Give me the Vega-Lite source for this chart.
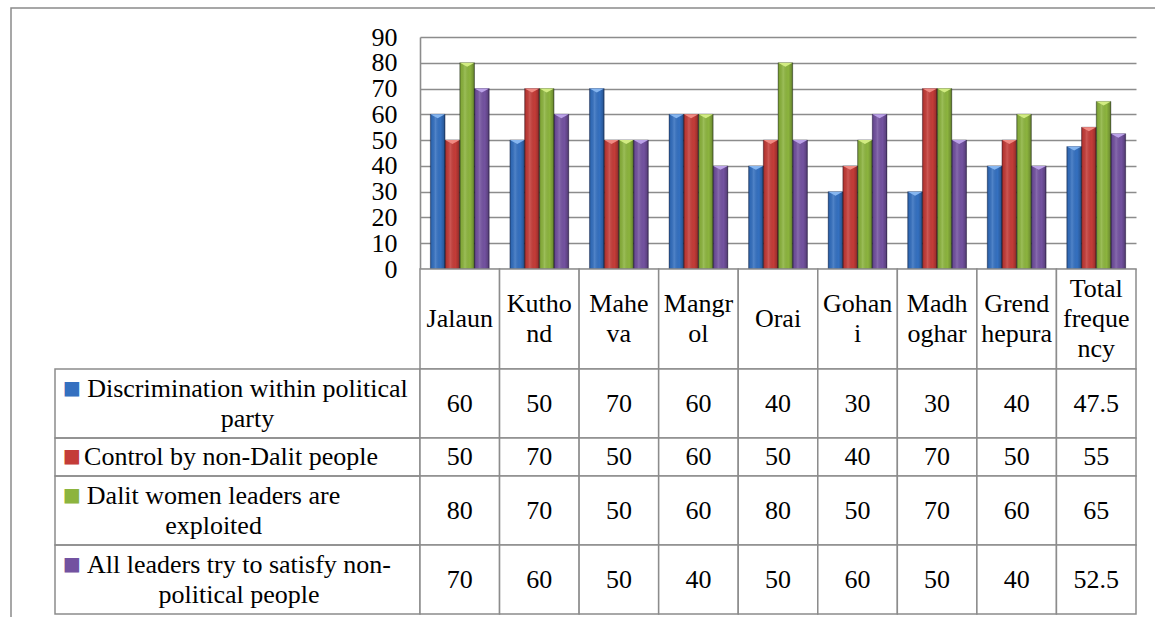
{
  "$schema": "https://vega.github.io/schema/vega-lite/v6.json",
  "background": "white",
  "padding": {"left": 10, "top": 7, "right": 0, "bottom": 0},
  "datasets": {
    "scores": [
      {"place": "Jalaun", "series": "Discrimination within political party", "value": 60},
      {"place": "Kuthond", "series": "Discrimination within political party", "value": 50},
      {"place": "Maheva", "series": "Discrimination within political party", "value": 70},
      {"place": "Mangrol", "series": "Discrimination within political party", "value": 60},
      {"place": "Orai", "series": "Discrimination within political party", "value": 40},
      {"place": "Gohani", "series": "Discrimination within political party", "value": 30},
      {"place": "Madhoghar", "series": "Discrimination within political party", "value": 30},
      {"place": "Grendhepura", "series": "Discrimination within political party", "value": 40},
      {"place": "Total frequency", "series": "Discrimination within political party", "value": 47.5},
      {"place": "Jalaun", "series": "Control by non-Dalit people", "value": 50},
      {"place": "Kuthond", "series": "Control by non-Dalit people", "value": 70},
      {"place": "Maheva", "series": "Control by non-Dalit people", "value": 50},
      {"place": "Mangrol", "series": "Control by non-Dalit people", "value": 60},
      {"place": "Orai", "series": "Control by non-Dalit people", "value": 50},
      {"place": "Gohani", "series": "Control by non-Dalit people", "value": 40},
      {"place": "Madhoghar", "series": "Control by non-Dalit people", "value": 70},
      {"place": "Grendhepura", "series": "Control by non-Dalit people", "value": 50},
      {"place": "Total frequency", "series": "Control by non-Dalit people", "value": 55},
      {"place": "Jalaun", "series": "Dalit women leaders are exploited", "value": 80},
      {"place": "Kuthond", "series": "Dalit women leaders are exploited", "value": 70},
      {"place": "Maheva", "series": "Dalit women leaders are exploited", "value": 50},
      {"place": "Mangrol", "series": "Dalit women leaders are exploited", "value": 60},
      {"place": "Orai", "series": "Dalit women leaders are exploited", "value": 80},
      {"place": "Gohani", "series": "Dalit women leaders are exploited", "value": 50},
      {"place": "Madhoghar", "series": "Dalit women leaders are exploited", "value": 70},
      {"place": "Grendhepura", "series": "Dalit women leaders are exploited", "value": 60},
      {"place": "Total frequency", "series": "Dalit women leaders are exploited", "value": 65},
      {"place": "Jalaun", "series": "All leaders try to satisfy non-political people", "value": 70},
      {"place": "Kuthond", "series": "All leaders try to satisfy non-political people", "value": 60},
      {"place": "Maheva", "series": "All leaders try to satisfy non-political people", "value": 50},
      {"place": "Mangrol", "series": "All leaders try to satisfy non-political people", "value": 40},
      {"place": "Orai", "series": "All leaders try to satisfy non-political people", "value": 50},
      {"place": "Gohani", "series": "All leaders try to satisfy non-political people", "value": 60},
      {"place": "Madhoghar", "series": "All leaders try to satisfy non-political people", "value": 50},
      {"place": "Grendhepura", "series": "All leaders try to satisfy non-political people", "value": 40},
      {"place": "Total frequency", "series": "All leaders try to satisfy non-political people", "value": 52.5}
    ],
    "places": [
      {"place": "Jalaun", "heading": "Jalaun"},
      {"place": "Kuthond", "heading": "Kutho\nnd"},
      {"place": "Maheva", "heading": "Mahe\nva"},
      {"place": "Mangrol", "heading": "Mangr\nol"},
      {"place": "Orai", "heading": "Orai"},
      {"place": "Gohani", "heading": "Gohan\ni"},
      {"place": "Madhoghar", "heading": "Madh\noghar"},
      {"place": "Grendhepura", "heading": "Grend\nhepura"},
      {"place": "Total frequency", "heading": "Total\nfreque\nncy"}
    ],
    "series": [
      {"series": "Discrimination within political party", "label": "Discrimination within political\nparty"},
      {"series": "Control by non-Dalit people", "label": "Control by non-Dalit people"},
      {"series": "Dalit women leaders are exploited", "label": "Dalit women leaders are\nexploited"},
      {"series": "All leaders try to satisfy non-political people", "label": "All leaders try to satisfy non-\npolitical people"}
    ]
  },
  "config": {
    "view": {"stroke": null},
    "font": "Liberation Serif, Tinos, Times New Roman, DejaVu Serif, serif",
    "text": {"font": "Liberation Serif, Tinos, Times New Roman, DejaVu Serif, serif", "fontSize": 26, "color": "black", "align": "center", "baseline": "middle"}
  },
  "columns": 3,
  "spacing": 0,
  "bounds": "flush",
  "align": "each",
  "resolve": {"scale": {"x": "independent", "y": "independent", "color": "independent", "fill": "independent", "xOffset": "independent"}},
  "concat": [
    {"width": 44, "height": 29, "data": {"values": [{"k": 1}]}, "mark": {"type": "text", "text": ""},
     "view": {"stroke": "#8a8a8a", "strokeWidth": 1.5, "strokeDash": [44, 73, 29]}},
    {"width": 365, "height": 29, "data": {"values": [{"k": 1}]}, "mark": {"type": "text", "text": ""},
     "view": {"stroke": "#8a8a8a", "strokeWidth": 1.5, "strokeDash": [365, 423]}},
    {"width": 735, "height": 29, "data": {"values": [{"k": 1}]}, "mark": {"type": "text", "text": ""},
     "view": {"stroke": "#8a8a8a", "strokeWidth": 1.5, "strokeDash": [735, 793]}},

    {"width": 44, "height": 232, "data": {"values": [{"k": 1}]}, "mark": {"type": "text", "text": ""},
     "view": {"stroke": "#8a8a8a", "strokeWidth": 1.5, "strokeDash": [0, 320, 232]}},
    {"width": 365, "height": 232, "data": {"values": [{"k": 1}]}, "mark": {"type": "text", "text": ""}},
    {
      "width": 716,
      "height": 232,
      "data": {"name": "scores"},
      "encoding": {
        "x": {"field": "place", "type": "nominal", "sort": null, "axis": null,
              "scale": {"paddingInner": 0.26, "paddingOuter": 0.13}},
        "xOffset": {"field": "series", "type": "nominal", "sort": null,
                    "scale": {"paddingInner": 0, "paddingOuter": 0}},
        "y": {"field": "value", "type": "quantitative", "stack": null,
              "scale": {"domain": [0, 90], "nice": false},
              "axis": {"values": [0, 10, 20, 30, 40, 50, 60, 70, 80, 90], "title": null,
                       "grid": true, "gridColor": "#8c8c8c", "gridWidth": 1.6,
                       "domain": true, "domainColor": "#8c8c8c", "domainWidth": 1.6,
                       "ticks": false, "labelPadding": 23,
                       "labelFont": "Liberation Serif, Tinos, Times New Roman, DejaVu Serif, serif",
                       "labelFontSize": 26, "labelColor": "black", "labelOverlap": false,
                       "labelFlush": false}}
      },
      "layer": [
        {"mark": {"type": "bar"},
         "encoding": {"color": {"field": "series", "type": "nominal", "sort": null, "legend": null,
           "scale": {"domain": ["Discrimination within political party", "Control by non-Dalit people", "Dalit women leaders are exploited", "All leaders try to satisfy non-political people"],
                     "range": ["#3470c0", "#c43c38", "#8cb43e", "#7352a0"]}}}},
        {"mark": {"type": "bar", "stroke": "#10102a", "strokeOpacity": 0.45, "strokeWidth": 0.7,
          "fill": {"gradient": "linear", "x1": 0, "y1": 0, "x2": 1, "y2": 0,
            "stops": [
              {"offset": 0, "color": "rgba(0,0,0,0.30)"},
              {"offset": 0.12, "color": "rgba(0,0,0,0.05)"},
              {"offset": 0.35, "color": "rgba(255,255,255,0.14)"},
              {"offset": 0.7, "color": "rgba(0,0,0,0)"},
              {"offset": 0.9, "color": "rgba(0,0,0,0.18)"},
              {"offset": 1, "color": "rgba(0,0,0,0.45)"}
            ]}}},
        {"mark": {"type": "point", "shape": "M-1,0L1,0L0,0.55Z", "filled": true, "size": 210, "opacity": 1, "strokeWidth": 0},
         "encoding": {"fill": {"field": "series", "type": "nominal", "sort": null, "legend": null,
           "scale": {"domain": ["Discrimination within political party", "Control by non-Dalit people", "Dalit women leaders are exploited", "All leaders try to satisfy non-political people"],
                     "range": ["#86b6f0", "#f08a82", "#d2ec82", "#bba2e8"]}}}}
      ]
    },

    {"width": 44, "height": 100, "data": {"values": [{"k": 1}]}, "mark": {"type": "text", "text": ""},
     "view": {"stroke": "#8a8a8a", "strokeWidth": 1.5, "strokeDash": [0, 188, 100]}},
    {"width": 365, "height": 100, "data": {"values": [{"k": 1}]}, "mark": {"type": "text", "text": ""}},
    {
      "width": 716, "height": 100,
      "data": {"name": "places"},
      "encoding": {"x": {"field": "place", "type": "nominal", "sort": null, "axis": null, "scale": {"padding": 0}}},
      "layer": [
        {"mark": {"type": "rect", "fill": "white", "stroke": "#8c8c8c", "strokeWidth": 1.5}},
        {"transform": [{"filter": "length(split(datum.heading, '\\n')) == 1"}],
         "mark": {"type": "text", "lineBreak": "\n", "lineHeight": 30},
         "encoding": {"text": {"field": "heading", "type": "nominal"}}},
        {"transform": [{"filter": "length(split(datum.heading, '\\n')) == 2"}],
         "mark": {"type": "text", "lineBreak": "\n", "lineHeight": 30, "dy": -15},
         "encoding": {"text": {"field": "heading", "type": "nominal"}}},
        {"transform": [{"filter": "length(split(datum.heading, '\\n')) == 3"}],
         "mark": {"type": "text", "lineBreak": "\n", "lineHeight": 30, "dy": -30},
         "encoding": {"text": {"field": "heading", "type": "nominal"}}}
      ]
    },

    {"width": 44, "height": 69, "data": {"values": [{"k": 1}]}, "mark": {"type": "text", "text": ""},
     "view": {"stroke": "#8a8a8a", "strokeWidth": 1.5, "strokeDash": [0, 157, 69]}},
    {
      "width": 365, "height": 69,
      "data": {"name": "series"},
      "transform": [{"filter": "datum.series === 'Discrimination within political party'"}],
      "view": {"stroke": "#8c8c8c", "strokeWidth": 1.5},
      "layer": [
        {"mark": {"type": "text", "text": "■", "font": "DejaVu Sans", "fontSize": 19, "color": "#3470c0", "dx": -165.5, "dy": -16}},
        {"mark": {"type": "text", "dx": 10, "dy": -15, "lineBreak": "\n", "lineHeight": 30}, "encoding": {"text": {"field": "label", "type": "nominal"}}}
      ]
    },
    {
      "width": 716, "height": 69,
      "data": {"name": "scores"},
      "transform": [{"filter": "datum.series === 'Discrimination within political party'"}],
      "encoding": {"x": {"field": "place", "type": "nominal", "sort": null, "axis": null, "scale": {"padding": 0}}},
      "layer": [
        {"mark": {"type": "rect", "fill": "white", "stroke": "#8c8c8c", "strokeWidth": 1.5}},
        {"mark": {"type": "text"}, "encoding": {"text": {"field": "value", "type": "quantitative", "format": ""}}}
      ]
    },

    {"width": 44, "height": 38, "data": {"values": [{"k": 1}]}, "mark": {"type": "text", "text": ""},
     "view": {"stroke": "#8a8a8a", "strokeWidth": 1.5, "strokeDash": [0, 126, 38]}},
    {
      "width": 365, "height": 38,
      "data": {"name": "series"},
      "transform": [{"filter": "datum.series === 'Control by non-Dalit people'"}],
      "view": {"stroke": "#8c8c8c", "strokeWidth": 1.5},
      "layer": [
        {"mark": {"type": "text", "text": "■", "font": "DejaVu Sans", "fontSize": 19, "color": "#c43c38", "dx": -165.5, "dy": -1}},
        {"mark": {"type": "text", "dx": -6.5}, "encoding": {"text": {"field": "label", "type": "nominal"}}}
      ]
    },
    {
      "width": 716, "height": 38,
      "data": {"name": "scores"},
      "transform": [{"filter": "datum.series === 'Control by non-Dalit people'"}],
      "encoding": {"x": {"field": "place", "type": "nominal", "sort": null, "axis": null, "scale": {"padding": 0}}},
      "layer": [
        {"mark": {"type": "rect", "fill": "white", "stroke": "#8c8c8c", "strokeWidth": 1.5}},
        {"mark": {"type": "text"}, "encoding": {"text": {"field": "value", "type": "quantitative", "format": ""}}}
      ]
    },

    {"width": 44, "height": 69, "data": {"values": [{"k": 1}]}, "mark": {"type": "text", "text": ""},
     "view": {"stroke": "#8a8a8a", "strokeWidth": 1.5, "strokeDash": [0, 157, 69]}},
    {
      "width": 365, "height": 69,
      "data": {"name": "series"},
      "transform": [{"filter": "datum.series === 'Dalit women leaders are exploited'"}],
      "view": {"stroke": "#8c8c8c", "strokeWidth": 1.5},
      "layer": [
        {"mark": {"type": "text", "text": "■", "font": "DejaVu Sans", "fontSize": 19, "color": "#8cb43e", "dx": -165.5, "dy": -16}},
        {"mark": {"type": "text", "dx": -24, "dy": -15, "lineBreak": "\n", "lineHeight": 30}, "encoding": {"text": {"field": "label", "type": "nominal"}}}
      ]
    },
    {
      "width": 716, "height": 69,
      "data": {"name": "scores"},
      "transform": [{"filter": "datum.series === 'Dalit women leaders are exploited'"}],
      "encoding": {"x": {"field": "place", "type": "nominal", "sort": null, "axis": null, "scale": {"padding": 0}}},
      "layer": [
        {"mark": {"type": "rect", "fill": "white", "stroke": "#8c8c8c", "strokeWidth": 1.5}},
        {"mark": {"type": "text"}, "encoding": {"text": {"field": "value", "type": "quantitative", "format": ""}}}
      ]
    },

    {"width": 44, "height": 72, "data": {"values": [{"k": 1}]}, "mark": {"type": "text", "text": ""},
     "view": {"stroke": "#8a8a8a", "strokeWidth": 1.5, "strokeDash": [0, 160, 72]}},
    {
      "width": 365, "height": 69,
      "data": {"name": "series"},
      "transform": [{"filter": "datum.series === 'All leaders try to satisfy non-political people'"}],
      "view": {"stroke": "#8c8c8c", "strokeWidth": 1.5},
      "layer": [
        {"mark": {"type": "text", "text": "■", "font": "DejaVu Sans", "fontSize": 19, "color": "#7352a0", "dx": -165.5, "dy": -16}},
        {"mark": {"type": "text", "dx": 1.5, "dy": -15, "lineBreak": "\n", "lineHeight": 30}, "encoding": {"text": {"field": "label", "type": "nominal"}}}
      ]
    },
    {
      "width": 716, "height": 69,
      "data": {"name": "scores"},
      "transform": [{"filter": "datum.series === 'All leaders try to satisfy non-political people'"}],
      "encoding": {"x": {"field": "place", "type": "nominal", "sort": null, "axis": null, "scale": {"padding": 0}}},
      "layer": [
        {"mark": {"type": "rect", "fill": "white", "stroke": "#8c8c8c", "strokeWidth": 1.5}},
        {"mark": {"type": "text"}, "encoding": {"text": {"field": "value", "type": "quantitative", "format": ""}}}
      ]
    }
  ]
}
